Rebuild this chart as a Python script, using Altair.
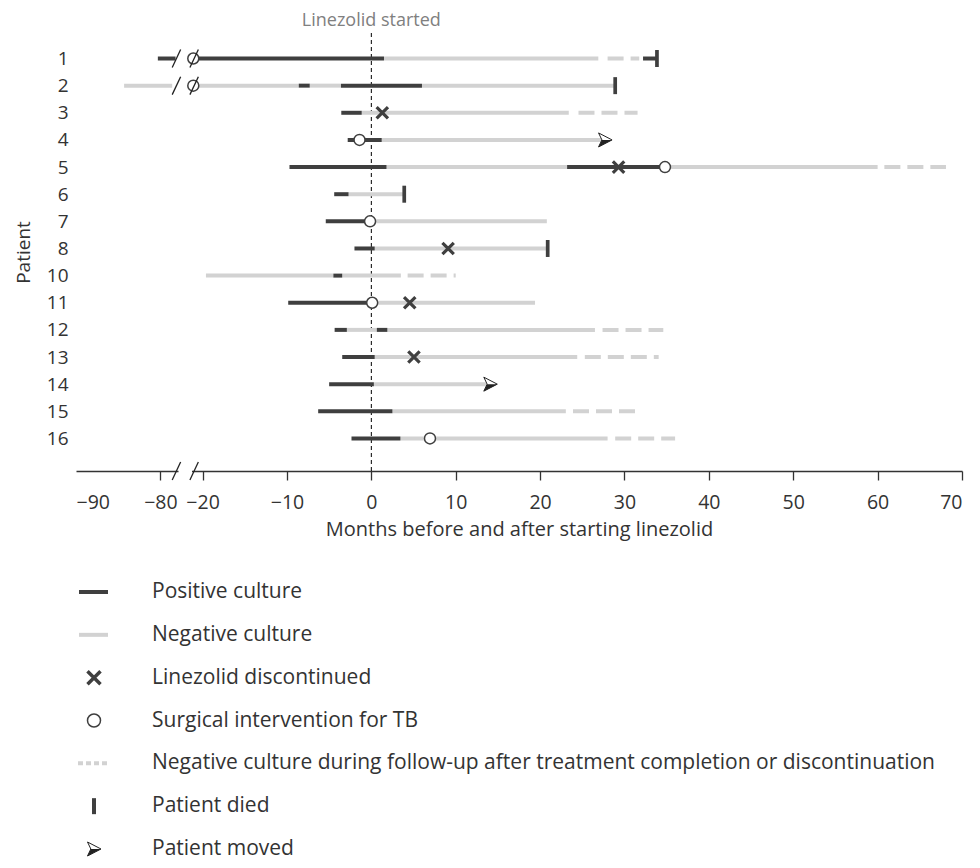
import altair as alt
import pandas as pd

# ---------------- data (months relative to linezolid start) ----------------
patients = ["1", "2", "3", "4", "5", "6", "7", "8", "10", "11", "12", "13", "14", "15", "16"]

pos_patient = ["1", "1", "1", "2", "2", "3", "4", "5", "5", "6", "7", "8", "10", "11", "12", "12", "13", "14", "15", "16"]
pos_start = [-80.3, -21.1, 32.2, -8.6, -3.6, -3.56, -2.8, -9.7, 23.2, -4.4, -5.4, -2.0, -4.5, -9.85, -4.35, 0.65, -3.45, -5.0, -6.3, -2.35]
pos_end = [-78.2, 1.5, 33.85, -7.3, 6.0, -1.14, 1.23, 1.8, 34.8, -2.7, -0.15, 0.4, -3.45, 0.1, -2.9, 1.9, 0.4, 0.3, 2.5, 3.45]

neg_patient = ["1", "2", "2", "2", "2", "3", "4", "5", "5", "6", "7", "8", "10", "10", "11", "12", "12", "13", "14", "15", "16"]
neg_start = [1.5, -84.3, -21.1, -7.3, 6.0, -1.14, 1.23, 1.8, 34.8, -2.7, -0.15, 0.4, -19.6, -3.45, 0.1, -2.9, 1.9, 0.4, 0.3, 2.5, 3.45]
neg_end = [26.9, -78.6, -8.6, -3.6, 28.9, 23.4, 27.7, 23.2, 60.0, 3.9, 20.8, 20.9, -4.5, 3.5, 19.4, 0.65, 26.5, 24.4, 14.1, 23.05, 28.0]

fu_patient = ["1", "3", "5", "10", "12", "13", "15", "16"]
fu_start = [28.0, 24.55, 60.8, 4.3, 27.4, 25.3, 23.9, 28.9]
fu_end = [31.75, 31.55, 68.1, 10.0, 34.6, 34.05, 31.3, 36.0]

disc_patient = ["3", "5", "8", "11", "13"]
disc_month = [1.3, 29.3, 9.1, 4.55, 5.05]

surg_patient = ["1", "2", "4", "5", "7", "11", "16"]
surg_month = [-21.1, -21.1, -1.4, 34.8, -0.15, 0.1, 6.95]

died_patient = ["1", "2", "6", "8"]
died_month = [33.85, 28.9, 3.9, 20.9]

moved_patient = ["4", "14"]
moved_month = [27.7, 14.1]

break_patient = ["1", "2"]
break_marks = [-23.1, -21.0]          # axis-break slashes (display units)

tick_values = [-35, -25, -20, -10, 0, 10, 20, 30, 40, 50, 60, 70]

legend_labels = [
    "Positive culture",
    "Negative culture",
    "Linezolid discontinued",
    "Surgical intervention for TB",
    "Negative culture during follow-up after treatment completion or discontinuation",
    "Patient died",
    "Patient moved",
]
legend_kind = ["pos", "neg", "disc", "surg", "fu", "died", "moved"]

# ---------------- helpers ----------------
DARK = "#3f3f3f"
LIGHT = "#d2d2d2"
TEXT = "#333333"
FONT = "Open Sans"
FS = 19
W, H = 886, 438
Y_MIN, Y_MAX = -0.94, 15.2
MINUS = "\u2212"


def disp(v):
    # broken axis: values before -50 months are shifted right by 55
    return v + 55 if v < -50 else v


def seg_df(pats, s, e):
    return pd.DataFrame({
        "row": [patients.index(p) for p in pats],
        "x": [disp(v) for v in s],
        "x2": [disp(v) for v in e],
    })


def pt_df(pats, m):
    return pd.DataFrame({
        "row": [patients.index(p) for p in pats],
        "x": [disp(v) for v in m],
    })


pos_df = seg_df(pos_patient, pos_start, pos_end)
neg_df = seg_df(neg_patient, neg_start, neg_end)
fu_df = seg_df(fu_patient, fu_start, fu_end)
disc_df = pt_df(disc_patient, disc_month)
surg_df = pt_df(surg_patient, surg_month)
died_df = pt_df(died_patient, died_month)
moved_df = pt_df(moved_patient, moved_month)

slash_rows = [patients.index(p) for p in break_patient] + [Y_MAX]
slash_df = pd.DataFrame([
    {"x": b - 0.5, "x2": b + 0.5, "row": r + 0.33, "y2": r - 0.33}
    for r in slash_rows for b in break_marks
])
gap_df = pd.DataFrame({"x": [break_marks[0] + 0.25], "x2": [break_marks[1] - 0.25], "row": [Y_MAX]})
start_df = pd.DataFrame({"x": [0], "label": ["Linezolid started"]})

label_arr = "[" + ",".join("'%s'" % p for p in patients) + "]"

x_enc = alt.X(
    "x:Q",
    scale=alt.Scale(domain=[-35, 70], nice=False, zero=False),
    axis=alt.Axis(
        values=tick_values,
        labelExpr="replace(datum.value < -22 ? format(datum.value - 55, 'd') : format(datum.value, 'd'), '-', '" + MINUS + "')",
        title="Months before and after starting linezolid",
        grid=False,
        tickSize=9,
        tickWidth=1.3,
        tickColor=TEXT,
        tickOpacity={"condition": {"test": "datum.value < -30", "value": 0}, "value": 1},
        domainColor=TEXT,
        domainWidth=1.3,
        labelFontSize=19.5,
        labelColor=TEXT,
        labelFont=FONT,
        labelPadding=13,
        titleFontSize=20,
        titleFont=FONT,
        titleFontWeight="normal",
        titleColor=TEXT,
        titlePadding=8,
    ),
)
y_enc = alt.Y(
    "row:Q",
    scale=alt.Scale(domain=[Y_MIN, Y_MAX], reverse=True, nice=False, zero=False),
    axis=alt.Axis(
        values=list(range(len(patients))),
        labelExpr=label_arr + "[datum.value]",
        title="Patient",
        grid=False,
        domain=False,
        ticks=False,
        labelFontSize=FS,
        labelFont=FONT,
        labelColor=TEXT,
        labelPadding=8,
        titleFontSize=FS,
        titleFont=FONT,
        titleFontWeight="normal",
        titleColor=TEXT,
        titlePadding=13,
    ),
)

X_PATH = "M-1,-1L1,1M-1,1L1,-1"
BAR_PATH = "M0,-1L0,1"
ARROW_FULL = "M1,0L-0.93,-1L-0.45,0L-0.93,1Z"
ARROW_LOW = "M1,0L-0.45,0L-0.93,1Z"

start_line = alt.Chart(start_df).mark_rule(color="black", strokeWidth=1, strokeDash=[4, 3]).encode(
    x=x_enc, y=alt.value(0), y2=alt.value(H)
)
start_text = alt.Chart(start_df).mark_text(fontSize=18, color="#808080", font=FONT, baseline="middle").encode(
    x=x_enc, y=alt.value(-12), text="label:N"
)
neg_layer = alt.Chart(neg_df).mark_rule(color=LIGHT, strokeWidth=4).encode(x=x_enc, x2="x2:Q", y=y_enc)
fu_layer = alt.Chart(fu_df).mark_rule(color=LIGHT, strokeWidth=4, strokeDash=[16, 7]).encode(x=x_enc, x2="x2:Q", y=y_enc)
pos_layer = alt.Chart(pos_df).mark_rule(color=DARK, strokeWidth=4).encode(x=x_enc, x2="x2:Q", y=y_enc)
died_layer = alt.Chart(died_df).mark_point(shape=BAR_PATH, size=289, filled=False, color=DARK, strokeWidth=3.7, opacity=1).encode(x=x_enc, y=y_enc)
disc_layer = alt.Chart(disc_df).mark_point(shape=X_PATH, size=130, filled=False, color=DARK, strokeWidth=3.2, opacity=1).encode(x=x_enc, y=y_enc)
surg_layer = alt.Chart(surg_df).mark_point(shape="circle", size=121, filled=True, fill="white", stroke=DARK, strokeWidth=1.5, opacity=1).encode(x=x_enc, y=y_enc)
moved_full = alt.Chart(moved_df).mark_point(shape=ARROW_FULL, size=196, filled=True, fill="white", stroke="#222222", strokeWidth=1, opacity=1).encode(x=x_enc, y=y_enc)
moved_low = alt.Chart(moved_df).mark_point(shape=ARROW_LOW, size=196, filled=True, fill="#222222", strokeWidth=0, opacity=1).encode(x=x_enc, y=y_enc)
gap_layer = alt.Chart(gap_df).mark_rule(color="white", strokeWidth=4).encode(x=x_enc, x2="x2:Q", y=y_enc)
slash_layer = alt.Chart(slash_df).mark_rule(color="#222222", strokeWidth=1.3).encode(x=x_enc, x2="x2:Q", y=y_enc, y2="y2:Q")

main = alt.layer(
    start_line, neg_layer, fu_layer, pos_layer, died_layer, disc_layer, surg_layer,
    moved_full, moved_low, gap_layer, slash_layer, start_text,
)

# ---------------- legend ----------------
leg_df = pd.DataFrame({"li": list(range(len(legend_labels))), "label": legend_labels, "kind": legend_kind})
ly = alt.Y("li:Q", scale=alt.Scale(domain=[0, 6], range=[559, 816], nice=False, zero=False), axis=None)
lb = alt.Chart(leg_df)
LX = 18
leg = alt.layer(
    lb.transform_filter(alt.datum.kind == "pos").mark_rule(color=DARK, strokeWidth=4).encode(x=alt.value(3), x2=alt.value(32), y=ly),
    lb.transform_filter(alt.datum.kind == "neg").mark_rule(color=LIGHT, strokeWidth=4).encode(x=alt.value(3), x2=alt.value(32), y=ly),
    lb.transform_filter(alt.datum.kind == "fu").mark_rule(color=LIGHT, strokeWidth=4, strokeDash=[5, 3]).encode(x=alt.value(2), x2=alt.value(31), y=ly),
    lb.transform_filter(alt.datum.kind == "disc").mark_point(shape=X_PATH, size=169, filled=False, color=DARK, strokeWidth=3.5, opacity=1).encode(x=alt.value(LX), y=ly),
    lb.transform_filter(alt.datum.kind == "surg").mark_point(shape="circle", size=169, filled=True, fill="white", stroke=DARK, strokeWidth=1.5, opacity=1).encode(x=alt.value(LX), y=ly),
    lb.transform_filter(alt.datum.kind == "died").mark_point(shape=BAR_PATH, size=256, filled=False, color=DARK, strokeWidth=4, opacity=1).encode(x=alt.value(LX), y=ly),
    lb.transform_filter(alt.datum.kind == "moved").mark_point(shape=ARROW_FULL, size=196, filled=True, fill="white", stroke="#222222", strokeWidth=1, opacity=1).encode(x=alt.value(LX), y=ly),
    lb.transform_filter(alt.datum.kind == "moved").mark_point(shape=ARROW_LOW, size=196, filled=True, fill="#222222", strokeWidth=0, opacity=1).encode(x=alt.value(LX), y=ly),
    lb.mark_text(align="left", baseline="middle", fontSize=21, color=TEXT, font=FONT).encode(x=alt.value(76), y=ly, text="label:N"),
)

chart = alt.layer(main, leg).resolve_scale(y="independent").properties(
    width=W,
    height=H,
    autosize=alt.AutoSizeParams(type="none"),
    padding={"left": 68, "top": 25, "right": 10, "bottom": 389},
).configure(font=FONT, background="white").configure_view(stroke=None)

chart.save("out.html", embed_options={"renderer": "svg", "actions": False})
